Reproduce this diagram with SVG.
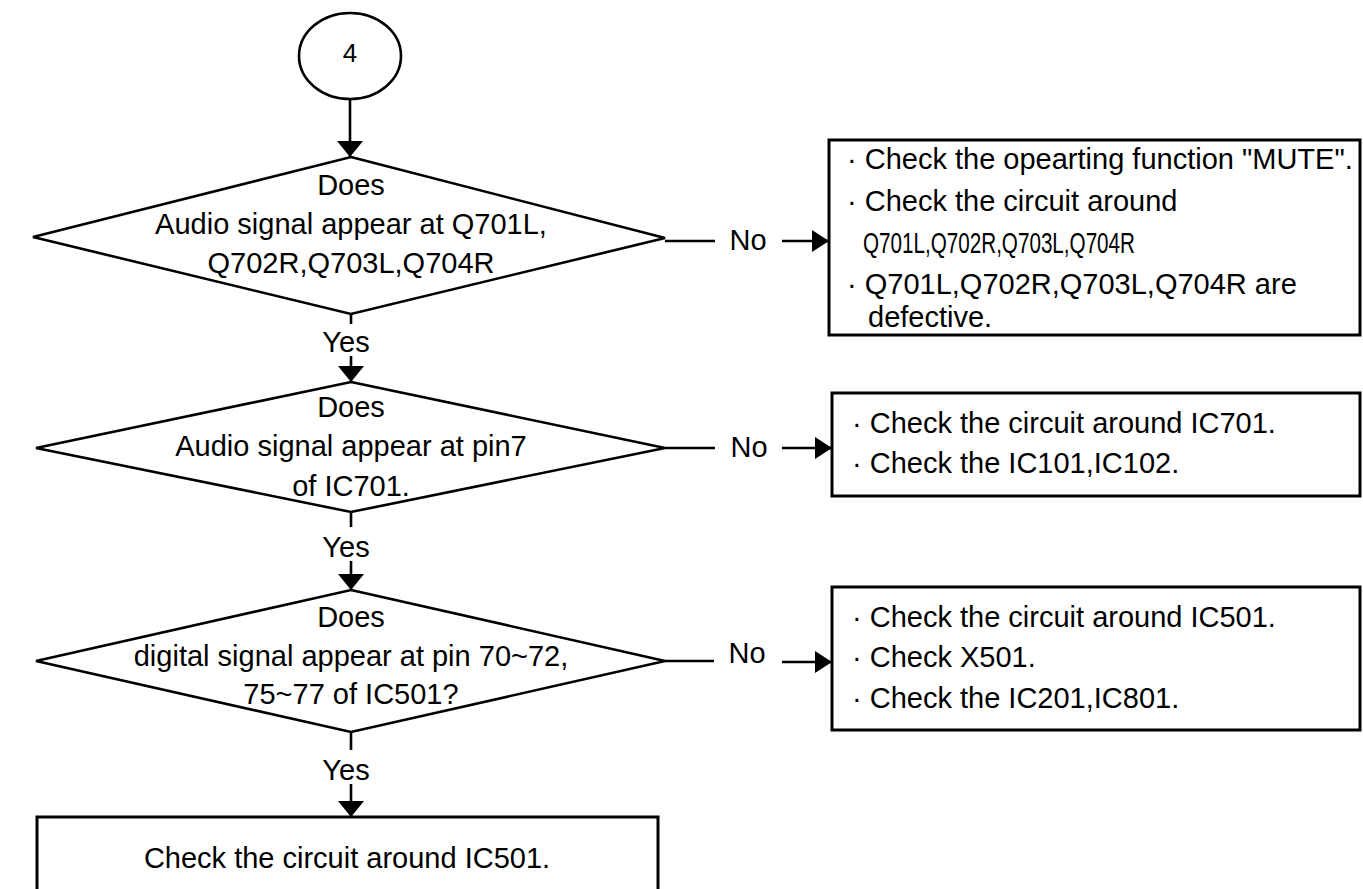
<svg xmlns="http://www.w3.org/2000/svg" width="1363" height="889" viewBox="0 0 1363 889">
<style>
  .shape { fill: #ffffff; stroke: #000000; stroke-width: 2.6; }
  .box { fill: #ffffff; stroke: #000000; stroke-width: 3; }
  .conn { fill: none; stroke: #000000; stroke-width: 2.6; }
  text { font-family: "Liberation Sans", Arial, sans-serif; font-size: 29px; fill: #000000; }
  .c { text-anchor: middle; }
</style>
<defs>
  <marker id="arrV" markerUnits="userSpaceOnUse" markerWidth="17" markerHeight="27" refX="16" refY="13" orient="auto">
    <path d="M0,0 L16,13 L0,26 z" fill="#000000"/>
  </marker>
  <marker id="arrH" markerUnits="userSpaceOnUse" markerWidth="18" markerHeight="23" refX="17" refY="11" orient="auto">
    <path d="M0,0 L17,11 L0,22 z" fill="#000000"/>
  </marker>
</defs>
<rect width="1363" height="889" fill="#ffffff"/>

<g id="start">
  <ellipse class="shape" cx="350" cy="56" rx="51" ry="43"/>
  <text class="c" x="350" y="62" style="font-size:26px">4</text>
</g>

<g id="decision1">
  <polygon class="shape" points="351,157 665,238 351,314 33,237"/>
  <text class="c" x="351" y="195">Does</text>
  <text class="c" x="351" y="234">Audio signal appear at Q701L,</text>
  <text class="c" x="351" y="273">Q702R,Q703L,Q704R</text>
</g>

<g id="action1">
  <rect class="box" x="829" y="140" width="531" height="195"/>
  <text x="847" y="169">· Check the opearting function "MUTE".</text>
  <text x="847" y="211">· Check the circuit around</text>
  <text x="863" y="253" textLength="272" lengthAdjust="spacingAndGlyphs">Q701L,Q702R,Q703L,Q704R</text>
  <text x="847" y="294">· Q701L,Q702R,Q703L,Q704R are</text>
  <text x="868" y="327">defective.</text>
</g>

<g id="decision2">
  <polygon class="shape" points="351,382 665,448 351,512 36,448"/>
  <text class="c" x="351" y="417">Does</text>
  <text class="c" x="351" y="456">Audio signal appear at pin7</text>
  <text class="c" x="351" y="496">of IC701.</text>
</g>

<g id="action2">
  <rect class="box" x="832" y="393" width="528" height="103"/>
  <text x="852" y="433">· Check the circuit around IC701.</text>
  <text x="852" y="473">· Check the IC101,IC102.</text>
</g>

<g id="decision3">
  <polygon class="shape" points="351,590 665,661 351,732 36,661"/>
  <text class="c" x="351" y="627">Does</text>
  <text class="c" x="351" y="666">digital signal appear at pin 70~72,</text>
  <text class="c" x="351" y="704">75~77 of IC501?</text>
</g>

<g id="action3">
  <rect class="box" x="832" y="587" width="528" height="143"/>
  <text x="852" y="627">· Check the circuit around IC501.</text>
  <text x="852" y="667">· Check X501.</text>
  <text x="852" y="708">· Check the IC201,IC801.</text>
</g>

<g id="end">
  <rect class="box" x="37" y="817" width="621" height="90"/>
  <text class="c" x="347" y="868">Check the circuit around IC501.</text>
</g>

<g id="connectors">
  <path class="conn" d="M350,99 L350,157" marker-end="url(#arrV)"/>

  <path class="conn" d="M351,314 L351,324"/>
  <text class="c" x="346" y="352">Yes</text>
  <path class="conn" d="M351,356 L351,382" marker-end="url(#arrV)"/>

  <path class="conn" d="M351,512 L351,527"/>
  <text class="c" x="346" y="557">Yes</text>
  <path class="conn" d="M351,561 L351,590" marker-end="url(#arrV)"/>

  <path class="conn" d="M351,732 L351,750"/>
  <text class="c" x="346" y="780">Yes</text>
  <path class="conn" d="M351,784 L351,817" marker-end="url(#arrV)"/>

  <path class="conn" d="M665,241 L715,241"/>
  <text class="c" x="748" y="250">No</text>
  <path class="conn" d="M782,241 L829,241" marker-end="url(#arrH)"/>

  <path class="conn" d="M665,448 L715,448"/>
  <text class="c" x="749" y="457">No</text>
  <path class="conn" d="M782,448 L832,448" marker-end="url(#arrH)"/>

  <path class="conn" d="M665,661 L714,661"/>
  <text class="c" x="747" y="663">No</text>
  <path class="conn" d="M782,662 L832,662" marker-end="url(#arrH)"/>
</g>
</svg>
